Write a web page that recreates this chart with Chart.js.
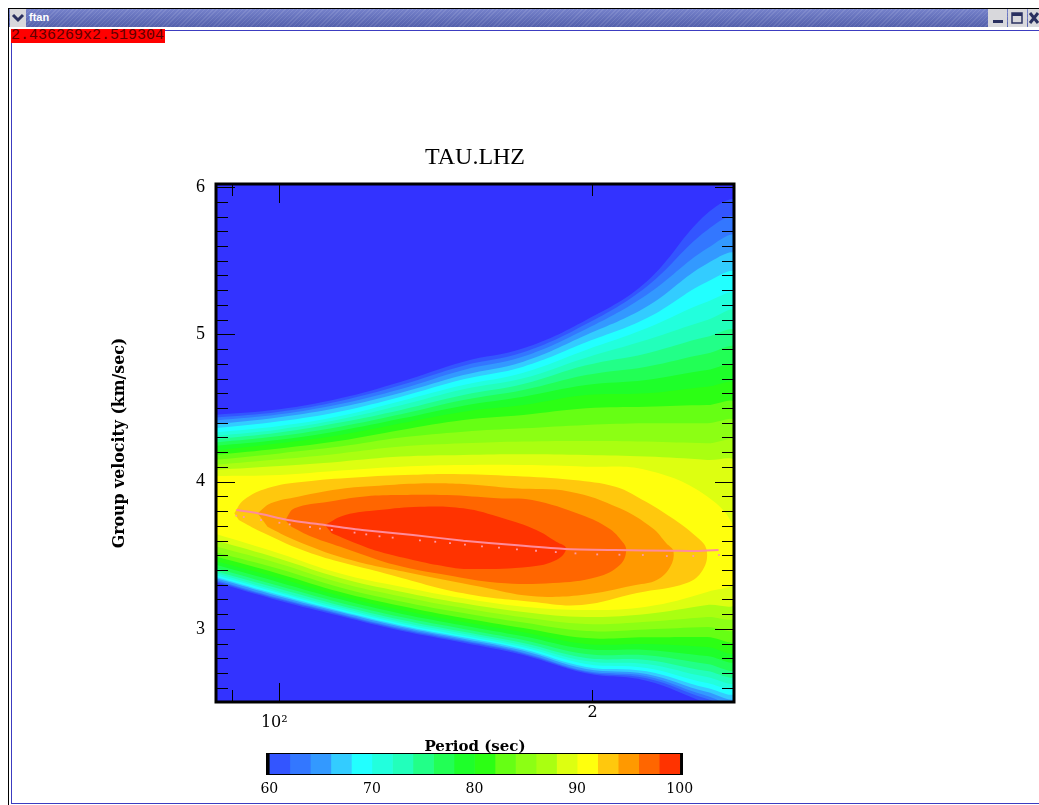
<!DOCTYPE html>
<html>
<head>
<meta charset="utf-8">
<title>ftan</title>
<script src="https://cdn.jsdelivr.net/npm/chart.js@4"></script>
<style>
html, body { margin: 0; padding: 0; background: #fff; width: 1039px; height: 805px; overflow: hidden; }
canvas { position: absolute; display: block; }
#main { left: 0; top: 0; }
#bar { left: 246px; top: 745px; }
.box { position: absolute; }
#titlebar { left: 9px; top: 9px; width: 1030px; height: 18px; background: repeating-linear-gradient(135deg, rgba(255,255,255,.10) 0 1px, rgba(0,0,0,0) 1px 3px), linear-gradient(#7682cb, #5360ab); }
#menu { left: 10px; top: 9px; width: 16px; height: 18px; background: #d8d8dc; }
#name { left: 29px; top: 11px; font: bold 11px "Liberation Sans", sans-serif; color: #fff; }
#coords { left: 11px; top: 29px; width: 154px; height: 14px; background: #ff0000; color: #600000; font: 15px/14px "Liberation Mono", monospace; white-space: nowrap; }
.btn { top: 9px; width: 19px; height: 18px; background: #d8d8dc; }
</style>
</head>
<body>
<div class="box" style="left:8px;top:8px;width:1031px;height:1px;background:#000"></div>
<div class="box" style="left:8px;top:8px;width:1px;height:797px;background:#000"></div>
<div class="box" id="titlebar"></div>
<div class="box" id="menu"><svg width="16" height="18"><polyline points="3,6 8,11 13,6" fill="none" stroke="#2a3060" stroke-width="3"/></svg></div>
<div class="box" id="name">ftan</div>
<div class="box" style="left:11px;top:30px;width:1028px;height:1px;background:#3c3cc0"></div>
<div class="box" style="left:11px;top:30px;width:1px;height:774px;background:#3c3cc0"></div>
<div class="box" style="left:11px;top:803px;width:1028px;height:1px;background:#3c3cc0"></div>
<div class="box btn" style="left:988px"><svg width="19" height="18"><rect x="5" y="11" width="10" height="3" fill="#2a3060"/></svg></div>
<div class="box btn" style="left:1008px"><svg width="19" height="18"><rect x="4" y="4" width="10" height="10" fill="none" stroke="#2a3060" stroke-width="1.5"/><rect x="4" y="4" width="10" height="3" fill="#2a3060"/></svg></div>
<div class="box btn" style="left:1028px"><svg width="19" height="18"><path d="M2 4 L10 14 M10 4 L2 14" stroke="#2a3060" stroke-width="3"/></svg></div>
<div class="box" id="coords">2.436269x2.519304</div>
<canvas id="main" width="1039" height="805"></canvas>
<canvas id="bar" width="470" height="58"></canvas>
<script>
// sampled periods for the open contours (sec)
var gridPeriods = [86.5, 100, 114.4, 130.9, 150.3, 171.6, 197.2, 225.4, 257.9, 275];

// upper and lower edge of the area above each amplitude level (km/s)
var upper60 = [4.453, 4.491, 4.566, 4.679, 4.815, 4.905, 5.098, 5.358, 5.822, 5.890];
var lower60 = [3.319, 3.192, 3.088, 2.988, 2.907, 2.823, 2.699, 2.649, 2.497, 2.443];
var upper62 = [4.434, 4.475, 4.548, 4.656, 4.787, 4.878, 5.070, 5.324, 5.709, 5.776];
var lower62 = [3.328, 3.201, 3.097, 2.997, 2.916, 2.832, 2.708, 2.665, 2.524, 2.484];
var upper64 = [4.414, 4.457, 4.527, 4.629, 4.758, 4.849, 5.036, 5.267, 5.584, 5.652];
var lower64 = [3.337, 3.208, 3.104, 3.004, 2.923, 2.839, 2.714, 2.678, 2.545, 2.518];
var upper66 = [4.389, 4.437, 4.505, 4.604, 4.724, 4.815, 4.996, 5.188, 5.482, 5.528];
var lower66 = [3.348, 3.221, 3.115, 3.015, 2.934, 2.852, 2.728, 2.694, 2.572, 2.551];
var upper68 = [4.362, 4.410, 4.477, 4.577, 4.695, 4.781, 4.946, 5.109, 5.358, 5.403];
var lower68 = [3.357, 3.230, 3.122, 3.024, 2.943, 2.862, 2.742, 2.712, 2.599, 2.585];
var upper70 = [4.333, 4.378, 4.446, 4.548, 4.656, 4.740, 4.894, 5.041, 5.222, 5.256];
var lower70 = [3.368, 3.244, 3.133, 3.036, 2.954, 2.875, 2.762, 2.735, 2.633, 2.622];
var upper72 = [4.310, 4.355, 4.423, 4.518, 4.627, 4.702, 4.842, 4.962, 5.098, 5.143];
var lower72 = [3.382, 3.255, 3.147, 3.047, 2.968, 2.889, 2.782, 2.762, 2.674, 2.658];
var upper74 = [4.287, 4.333, 4.401, 4.487, 4.588, 4.663, 4.790, 4.871, 4.984, 5.007];
var lower74 = [3.396, 3.273, 3.160, 3.063, 2.981, 2.904, 2.803, 2.789, 2.714, 2.699];
var upper76 = [4.265, 4.310, 4.373, 4.457, 4.554, 4.622, 4.724, 4.781, 4.871, 4.894];
var lower76 = [3.416, 3.291, 3.178, 3.081, 3.000, 2.925, 2.830, 2.821, 2.762, 2.744];
var upper78 = [4.242, 4.285, 4.346, 4.428, 4.516, 4.577, 4.656, 4.690, 4.758, 4.769];
var lower78 = [3.439, 3.316, 3.201, 3.104, 3.024, 2.950, 2.864, 2.857, 2.816, 2.800];
var upper80 = [4.210, 4.260, 4.317, 4.396, 4.475, 4.520, 4.588, 4.600, 4.645, 4.649];
var lower80 = [3.463, 3.344, 3.224, 3.129, 3.047, 2.977, 2.898, 2.898, 2.877, 2.857];
var upper82 = [4.181, 4.226, 4.278, 4.351, 4.419, 4.453, 4.498, 4.509, 4.520, 4.520];
var lower82 = [3.495, 3.373, 3.251, 3.156, 3.074, 3.006, 2.938, 2.943, 2.945, 2.936];
var upper84 = [4.147, 4.192, 4.238, 4.299, 4.339, 4.362, 4.385, 4.396, 4.396, 4.396];
var lower84 = [3.525, 3.407, 3.282, 3.187, 3.108, 3.043, 2.986, 2.997, 3.013, 3.015];
var upper86 = [4.113, 4.152, 4.192, 4.238, 4.260, 4.272, 4.276, 4.272, 4.260, 4.260];
var lower86 = [3.563, 3.443, 3.314, 3.221, 3.142, 3.079, 3.033, 3.049, 3.081, 3.095];
var upper88 = [4.079, 4.106, 4.136, 4.170, 4.181, 4.186, 4.181, 4.170, 4.147, 4.124];
var lower88 = [3.604, 3.477, 3.346, 3.253, 3.174, 3.115, 3.081, 3.101, 3.162, 3.185];
var upper90 = [4.038, 4.045, 4.075, 4.102, 4.113, 4.113, 4.102, 4.079, 3.900, 3.651];
var lower90 = [3.649, 3.513, 3.377, 3.287, 3.208, 3.151, 3.129, 3.151, 3.251, 3.332];

// closed contours around the maximum, walked clockwise
var closed92Periods = [90.5, 92.4, 97.5, 105.0, 118.3, 134.4, 147.0, 168.2, 191.7, 210.4, 220.7, 237.5, 251.8, 257.5, 255.3, 246.4, 220.7, 195.3, 174.6, 150.3, 124.7, 107.4, 96.0, 91.4];
var closed92Speeds = [3.785, 3.875, 3.957, 3.998, 4.029, 4.047, 4.052, 4.038, 4.011, 3.966, 3.898, 3.762, 3.626, 3.536, 3.400, 3.312, 3.244, 3.163, 3.185, 3.242, 3.389, 3.513, 3.660, 3.740];
var closed94Periods = [95.3, 98.1, 104.2, 115.7, 124.7, 136.4, 150.3, 168.2, 190.3, 212.5, 228.5, 235.5, 239.3, 237.5, 230.6, 220.1, 195.3, 174.6, 156.1, 134.4, 115.7, 103.4, 97.4];
var closed94Speeds = [3.785, 3.853, 3.898, 3.955, 3.973, 3.988, 3.984, 3.955, 3.932, 3.819, 3.683, 3.581, 3.525, 3.420, 3.332, 3.298, 3.230, 3.224, 3.287, 3.377, 3.479, 3.604, 3.694];
var closed96Periods = [101.3, 103.4, 111.5, 120.1, 129.4, 144.8, 162.0, 175.0, 195.3, 207.3, 213.0, 215.5, 212.5, 202.0, 183.3, 162.0, 144.8, 129.4, 115.7, 107.4, 102.7];
var closed96Speeds = [3.740, 3.819, 3.864, 3.898, 3.909, 3.909, 3.887, 3.875, 3.773, 3.683, 3.604, 3.536, 3.434, 3.353, 3.312, 3.314, 3.366, 3.434, 3.547, 3.626, 3.694];
var closed98Periods = [110.6, 115.7, 124.7, 136.4, 150.3, 164.1, 176.6, 184.6, 188.6, 184.6, 174.2, 152.5, 144.8, 134.4, 124.7, 117.4, 112.3];
var closed98Speeds = [3.706, 3.773, 3.807, 3.830, 3.819, 3.751, 3.672, 3.592, 3.547, 3.468, 3.423, 3.407, 3.423, 3.468, 3.525, 3.592, 3.649];

// picked dispersion curve and raw picks
var curvePeriods = [90.9, 95.3, 101.9, 110.6, 120.1, 134.4, 150.3, 168.2, 188.2, 210.4, 239.0, 251.8, 264.4];
var curveSpeeds = [3.807, 3.785, 3.740, 3.706, 3.672, 3.638, 3.599, 3.570, 3.543, 3.536, 3.531, 3.529, 3.536];
var pickPeriods = [90.9, 92.4, 96.0, 100, 102.3, 107.0, 109.4, 112.3, 118.1, 121.2, 124.8, 128.5, 136.5, 141.2, 145.9, 150.8, 156.6, 162.6, 169.2, 176.5, 184.4, 192.6, 202.1, 212.3, 223.6, 235.8, 250.0, 264.6];
var pickSpeeds = [3.769, 3.760, 3.740, 3.721, 3.710, 3.692, 3.681, 3.672, 3.654, 3.642, 3.629, 3.620, 3.601, 3.592, 3.583, 3.572, 3.561, 3.552, 3.540, 3.531, 3.522, 3.513, 3.506, 3.504, 3.502, 3.495, 3.495, 3.502];

var levels = [60, 62, 64, 66, 68, 70, 72, 74, 76, 78, 80, 82, 84, 86, 88, 90, 92, 94, 96, 98, 100];
var levelColors = ["#3355ff", "#3377ff", "#3399ff", "#33ccff", "#22ffff", "#22ffdd", "#22ffbb", "#22ff88", "#22ff55", "#1eff2a",
    "#2cff14", "#66ff14", "#8cff14", "#aaff11", "#ddff11", "#ffff0d", "#ffc80d", "#ff9900", "#ff6600", "#ff3300"];

var periodTicks = [90, 100, 200];
var periodLongTicks = [100];
var velocityTicks = [3, 4, 5, 6];
var velocityMinorTicks = [2.6, 2.7, 2.8, 2.9, 3.1, 3.2, 3.3, 3.4, 3.5, 3.6, 3.7, 3.8, 3.9, 4.1, 4.2, 4.3, 4.4, 4.5, 4.6, 4.7, 4.8, 4.9, 5.1, 5.2, 5.3, 5.4, 5.5, 5.6, 5.7, 5.8, 5.9];
var barTicks = [60, 70, 80, 90, 100];

var PLOT_BLUE = "#3333ff";

function points(xs, ys) {
    return xs.map(function (x, i) { return { x: x, y: ys[i] }; });
}

function openContour(upper, lower) {
    var pts = points(gridPeriods, upper);
    return pts.concat(points(gridPeriods, lower).reverse());
}

var contours = [
    openContour(upper60, lower60), openContour(upper62, lower62), openContour(upper64, lower64), openContour(upper66, lower66),
    openContour(upper68, lower68), openContour(upper70, lower70), openContour(upper72, lower72), openContour(upper74, lower74),
    openContour(upper76, lower76), openContour(upper78, lower78), openContour(upper80, lower80), openContour(upper82, lower82),
    openContour(upper84, lower84), openContour(upper86, lower86), openContour(upper88, lower88), openContour(upper90, lower90),
    points(closed92Periods, closed92Speeds), points(closed94Periods, closed94Speeds),
    points(closed96Periods, closed96Speeds), points(closed98Periods, closed98Speeds)
];

// first dataset is painted last, so the innermost contour goes first
var datasets = [
    {
        data: points(pickPeriods, pickSpeeds), showLine: false, pointStyle: "rect", pointRadius: 1.3,
        pointBackgroundColor: "#ff9aa8", pointBorderWidth: 0
    },
    {
        data: points(curvePeriods, curveSpeeds), showLine: true, borderColor: "#ff8c9c", borderWidth: 2,
        pointRadius: 0, tension: 0.2, fill: false
    }
];
for (var i = contours.length - 1; i >= 0; i--) {
    datasets.push({
        data: contours[i], showLine: true, borderWidth: 0, pointRadius: 0, tension: 0.4,
        backgroundColor: levelColors[i], fill: "shape"
    });
}

var plotExtras = {
    id: "plotExtras",
    beforeDatasetsDraw: function (chart) {
        var a = chart.chartArea, ctx = chart.ctx;
        ctx.save();
        ctx.fillStyle = PLOT_BLUE;
        ctx.fillRect(a.left, a.top, a.right - a.left, a.bottom - a.top);
        ctx.restore();
    },
    afterDatasetsDraw: function (chart) {
        var a = chart.chartArea, ctx = chart.ctx;
        var xs = chart.scales.x, ys = chart.scales.y;
        ctx.save();
        ctx.strokeStyle = "#000";
        ctx.lineWidth = 1;
        ctx.beginPath();
        velocityMinorTicks.forEach(function (v) {
            var y = Math.round(ys.getPixelForValue(v)) + 0.5;
            ctx.moveTo(a.left, y); ctx.lineTo(a.left + 12, y);
            ctx.moveTo(a.right, y); ctx.lineTo(a.right - 12, y);
        });
        velocityTicks.forEach(function (v) {
            var y = Math.round(ys.getPixelForValue(v)) + 0.5;
            ctx.moveTo(a.left, y); ctx.lineTo(a.left + 19, y);
            ctx.moveTo(a.right, y); ctx.lineTo(a.right - 19, y);
        });
        periodTicks.forEach(function (p) {
            var x = Math.round(xs.getPixelForValue(p)) + 0.5;
            var len = periodLongTicks.indexOf(p) >= 0 ? 19 : 12;
            ctx.moveTo(x, a.top); ctx.lineTo(x, a.top + len);
            ctx.moveTo(x, a.bottom); ctx.lineTo(x, a.bottom - len);
        });
        ctx.stroke();
        ctx.lineWidth = 3;
        ctx.strokeRect(a.left, a.top, a.right - a.left, a.bottom - a.top);
        ctx.restore();
    }
};

new Chart(document.getElementById("main"), {
    type: "scatter",
    data: { datasets: datasets },
    plugins: [plotExtras],
    options: {
        responsive: false,
        animation: false,
        events: [],
        layout: { autoPadding: false, padding: { left: 111, right: 305, top: 143, bottom: 49 } },
        plugins: {
            legend: { display: false },
            tooltip: { enabled: false },
            title: {
                display: true, text: "TAU.LHZ", color: "#000", fullSize: false,
                font: { family: "'Liberation Serif', serif", size: 24, weight: "normal", lineHeight: 1.2 },
                padding: { top: 0, bottom: 12.2 }
            }
        },
        scales: {
            x: {
                type: "logarithmic", min: 86.9, max: 273.6,
                grid: { display: false, drawTicks: false }, border: { display: false },
                afterBuildTicks: function (s) { s.ticks = periodTicks.map(function (v) { return { value: v }; }); },
                afterFit: function (s) { s.height = 54; },
                ticks: {
                    autoSkip: false, maxRotation: 0, minRotation: 0, padding: 6, color: "#000",
                    font: { family: "'DejaVu Serif', serif", size: 16, lineHeight: 0.6 },
                    callback: function (v) { return v === 100 ? ["", "10\u00b2  "] : v === 200 ? "2" : ""; }
                },
                title: {
                    display: true, text: "Period (sec)", color: "#000", padding: 0,
                    font: { family: "'DejaVu Serif', serif", size: 15, weight: "bold", lineHeight: 18 / 15 }
                }
            },
            y: {
                type: "linear", min: 2.504, max: 6.021,
                grid: { display: false, drawTicks: false }, border: { display: false },
                afterBuildTicks: function (s) { s.ticks = velocityTicks.map(function (v) { return { value: v }; }); },
                afterFit: function (s) { s.width = 105; },
                ticks: {
                    padding: 11, color: "#000",
                    font: { family: "'Liberation Serif', serif", size: 18 }
                },
                title: {
                    display: true, text: "Group velocity (km/sec)", color: "#000", padding: 0,
                    font: { family: "'DejaVu Serif', serif", size: 15.8, weight: "bold", lineHeight: 18 / 15.8 }
                }
            }
        }
    }
});

// colour scale under the plot
var barDatasets = [{ data: [[59.68, 60]], backgroundColor: "#000" }];
levelColors.forEach(function (c, i) {
    barDatasets.push({ data: [[levels[i], levels[i + 1]]], backgroundColor: c });
});
barDatasets.push({ data: [[100, 100.32]], backgroundColor: "#000" });

var barFrame = {
    id: "barFrame",
    afterDatasetsDraw: function (chart) {
        var a = chart.chartArea, ctx = chart.ctx;
        ctx.save();
        ctx.strokeStyle = "#000";
        ctx.lineWidth = 1;
        ctx.strokeRect(a.left + 0.5, a.top + 0.5, a.right - a.left - 1, a.bottom - a.top - 1);
        ctx.restore();
    }
};

new Chart(document.getElementById("bar"), {
    type: "bar",
    data: { labels: ["amplitude"], datasets: barDatasets },
    plugins: [barFrame],
    options: {
        indexAxis: "y",
        responsive: false,
        animation: false,
        events: [],
        grouped: false,
        barPercentage: 1,
        categoryPercentage: 1,
        layout: { autoPadding: false, padding: { left: 20, right: 33, top: 8, bottom: 0 } },
        plugins: { legend: { display: false }, tooltip: { enabled: false } },
        scales: {
            x: {
                type: "linear", min: 59.68, max: 100.32,
                grid: { display: false, drawTicks: false }, border: { display: false },
                afterBuildTicks: function (s) { s.ticks = barTicks.map(function (v) { return { value: v }; }); },
                afterFit: function (s) { s.height = 28; },
                ticks: {
                    autoSkip: false, maxRotation: 0, padding: 6, color: "#000",
                    font: { family: "'DejaVu Serif', serif", size: 14 }
                }
            },
            y: { display: false }
        }
    }
});
</script>
</body>
</html>
